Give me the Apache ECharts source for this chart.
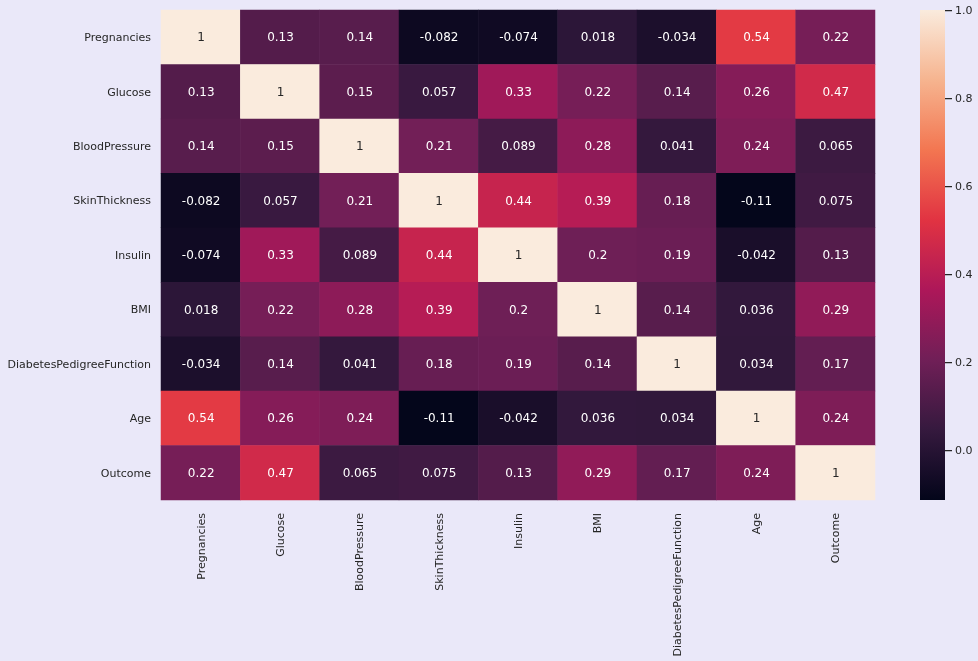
<!DOCTYPE html>
<html>
<head>
<meta charset="utf-8">
<style>html,body{margin:0;padding:0;background:#EAE8F9}#c{width:978px;height:661px}</style>
<script src="https://cdn.jsdelivr.net/npm/echarts@6/dist/echarts.min.js"></script>
</head>
<body>
<div id="c"></div>
<script>
const categories = ['Pregnancies','Glucose','BloodPressure','SkinThickness','Insulin','BMI','DiabetesPedigreeFunction','Age','Outcome'];
const row0 = [1,0.13,0.14,-0.082,-0.074,0.018,-0.034,0.54,0.22];
const row1 = [0.13,1,0.15,0.057,0.33,0.22,0.14,0.26,0.47];
const row2 = [0.14,0.15,1,0.21,0.089,0.28,0.041,0.24,0.065];
const row3 = [-0.082,0.057,0.21,1,0.44,0.39,0.18,-0.11,0.075];
const row4 = [-0.074,0.33,0.089,0.44,1,0.2,0.19,-0.042,0.13];
const row5 = [0.018,0.22,0.28,0.39,0.2,1,0.14,0.036,0.29];
const row6 = [-0.034,0.14,0.041,0.18,0.19,0.14,1,0.034,0.17];
const row7 = [0.54,0.26,0.24,-0.11,-0.042,0.036,0.034,1,0.24];
const row8 = [0.22,0.47,0.065,0.075,0.13,0.29,0.17,0.24,1];
const rows = [row0,row1,row2,row3,row4,row5,row6,row7,row8];
const colorTicks = [0,0.2,0.4,0.6,0.8,1];
const scaleMin = -0.114, scaleMax = 1;
const rocket = ['#03051a','#35193e','#701f57','#ad1759','#e13342','#f37651','#f6b48f','#faebdd'];

const font = '"DejaVu Sans"', textColor = '#262626';
const nudged = {a:{padding:[2,0,0,0],color:textColor,fontFamily:font,fontSize:11}};
const data = [];
rows.forEach((r,y)=>r.forEach((v,x)=>data.push({
  value:[x,y,v],
  label:{color: v>0.8 ? '#262626' : '#ffffff'}
})));

const chart = echarts.init(document.getElementById('c'));
chart.setOption({
  backgroundColor:'#EAE8F9',
  animation:false,
  grid:[
    {left:161,top:10,width:714,height:490,containLabel:false},
    {left:920,top:10,width:25,height:490,containLabel:false}
  ],
  graphic:[{
    type:'rect',left:920,top:10,z:0,silent:true,
    shape:{width:25,height:490},
    style:{fill:new echarts.graphic.LinearGradient(0,1,0,0,rocket.map((c,i)=>({offset:i/(rocket.length-1),color:c})))}
  }],
  xAxis:[
    {type:'category',gridIndex:0,data:categories,position:'bottom',
     axisLine:{show:false},axisTick:{show:false},splitLine:{show:false},splitArea:{show:false},
     axisLabel:{rotate:90,margin:13,interval:0,color:textColor,fontFamily:font,fontSize:11,
       formatter:v=>'{a|'+v+'}',rich:nudged}},
    {type:'value',gridIndex:1,min:0,max:1,show:false}
  ],
  yAxis:[
    {type:'category',gridIndex:0,data:categories,inverse:true,
     axisLine:{show:false},axisTick:{show:false},splitLine:{show:false},splitArea:{show:false},
     axisLabel:{margin:10,interval:0,color:textColor,fontFamily:font,fontSize:11,
       formatter:v=>'{a|'+v+'}',rich:nudged}},
    {type:'value',gridIndex:1,min:scaleMin,max:scaleMax,position:'right',offset:0,
     axisLine:{show:false,onZero:false},splitLine:{show:false},
     axisTick:{show:true,length:7,inside:false,customValues:colorTicks,lineStyle:{color:textColor,width:1.25}},
     axisLabel:{show:true,margin:10,customValues:colorTicks,color:textColor,fontFamily:font,fontSize:11,
       showMinLabel:true,showMaxLabel:true,formatter:v=>'{a|'+v.toFixed(1)+'}',rich:nudged}}
  ],
  visualMap:{
    type:'continuous',show:false,min:scaleMin,max:scaleMax,seriesIndex:0,
    inRange:{color:rocket}
  },
  series:[{
    type:'heatmap',xAxisIndex:0,yAxisIndex:0,data:data,progressive:0,
    emphasis:{disabled:true},
    label:{show:true,fontFamily:font,fontSize:12,offset:[0.5,1],formatter:p=>String(p.value[2])},
    itemStyle:{borderWidth:0}
  }]
});
</script>
</body>
</html>
